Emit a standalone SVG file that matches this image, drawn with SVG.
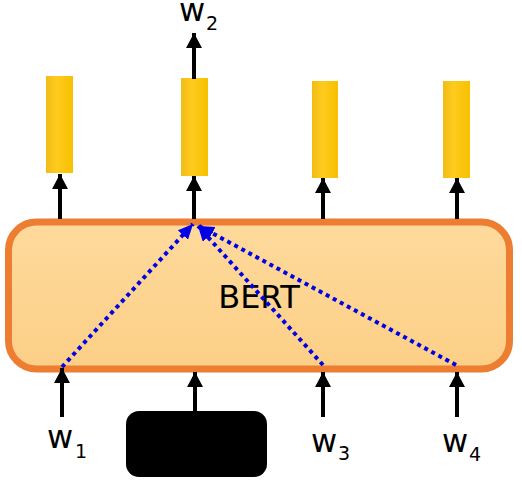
<svg xmlns="http://www.w3.org/2000/svg" width="522" height="484" viewBox="0 0 522 484">
<style>
.lbl{font-family:"DejaVu Sans",sans-serif;fill:#000}
.w{font-size:32px}
.sub{font-size:19px}
.arr{stroke:#000;stroke-width:4;fill:none;marker-end:url(#ah)}
.dot{stroke:#0000E6;stroke-width:4;stroke-dasharray:4 4;fill:none;marker-end:url(#bh)}
.bar{fill:url(#yg)}
</style>
<defs>
<marker id="ah" markerUnits="userSpaceOnUse" markerWidth="16" markerHeight="16" viewBox="0 0 16 16" refX="15" refY="8" orient="auto">
<path d="M0,0 L15,8 L0,16 Z" fill="#000"/>
</marker>
<marker id="bh" markerUnits="userSpaceOnUse" markerWidth="16" markerHeight="14" viewBox="0 0 16 14" refX="15" refY="7" orient="auto">
<path d="M0,0 L15,7 L0,14 Z" fill="#0000E6"/>
</marker>
<linearGradient id="yg" x1="0" y1="0" x2="1" y2="0">
<stop offset="0" stop-color="#F0BC18"/>
<stop offset="0.4" stop-color="#FFCB1E"/>
<stop offset="1" stop-color="#F7C000"/>
</linearGradient>
<linearGradient id="og" x1="0" y1="0" x2="0" y2="1">
<stop offset="0" stop-color="#FEDA9C"/>
<stop offset="1" stop-color="#FCCF86"/>
</linearGradient>
</defs>

<g id="bert">
<rect x="8.5" y="222" width="501" height="147" rx="28" fill="url(#og)" stroke="#ED7D31" stroke-width="7"/>
<text class="lbl" x="259" y="308" font-size="32" text-anchor="middle">BERT</text>
</g>

<g id="out1"><rect class="bar" x="46" y="76" width="27" height="97"/></g>
<g id="out2"><rect class="bar" x="181" y="78" width="27" height="98"/></g>
<g id="out3"><rect class="bar" x="312" y="81" width="26" height="97"/></g>
<g id="out4"><rect class="bar" x="443" y="81" width="27" height="97"/></g>

<g id="mask"><rect x="126" y="411" width="141" height="66" rx="13" fill="#000"/></g>

<g id="w1"><text class="lbl w" x="47" y="448">w<tspan class="sub" x="75" y="458">1</tspan></text></g>
<g id="w2"><text class="lbl w" x="179" y="21">w<tspan class="sub" x="206" y="30">2</tspan></text></g>
<g id="w3"><text class="lbl w" x="311" y="452">w<tspan class="sub" x="338" y="460">3</tspan></text></g>
<g id="w4"><text class="lbl w" x="442" y="452">w<tspan class="sub" x="469" y="461">4</tspan></text></g>

<g id="connectors">
<line class="arr" x1="194" y1="79" x2="194" y2="33"/>
<line class="arr" x1="60" y1="219" x2="60" y2="174"/>
<line class="arr" x1="194" y1="219" x2="194" y2="176"/>
<line class="arr" x1="323" y1="219" x2="323" y2="178"/>
<line class="arr" x1="457" y1="219" x2="457" y2="178"/>
<line class="arr" x1="62" y1="417" x2="62" y2="368"/>
<line class="arr" x1="195" y1="411" x2="195" y2="372"/>
<line class="arr" x1="323" y1="417" x2="323" y2="372"/>
<line class="arr" x1="457" y1="417" x2="457" y2="372"/>
<line class="dot" x1="62" y1="367" x2="193" y2="224"/>
<line class="dot" x1="323" y1="365" x2="198" y2="226"/>
<line class="dot" x1="456" y1="365" x2="199" y2="226"/>
</g>
</svg>
